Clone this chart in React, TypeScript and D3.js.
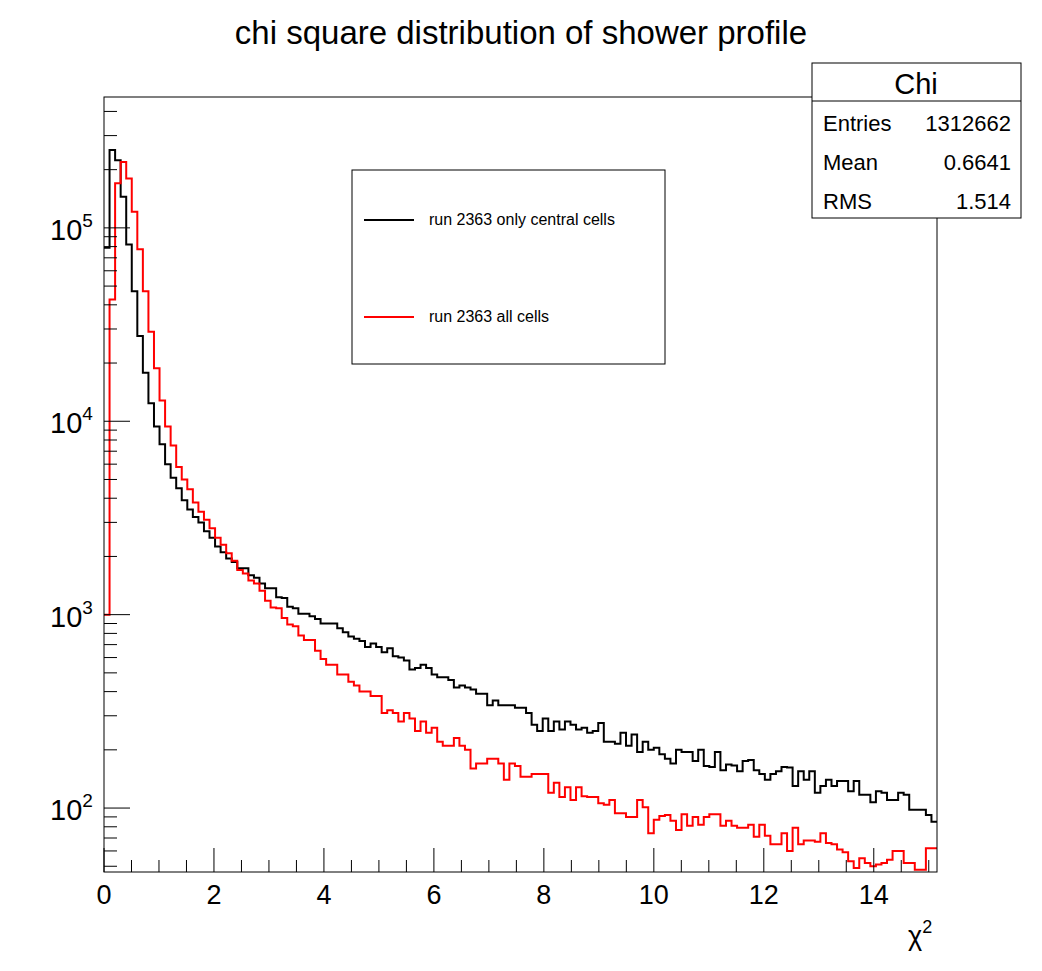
import React, { useEffect, useRef } from "react";
import * as d3 from "d3";

const binWidth = 0.101;
const xTicks = [0, 2, 4, 6, 8, 10, 12, 14];
const yTickExps = [2, 3, 4, 5];
const seriesNames = ["run 2363 only central cells", "run 2363 all cells"];
const seriesColors = ["#000000", "#ff0000"];
const statsLabels = ["Entries", "Mean", "RMS"];
const statsValues = ["1312662", "0.6641", "1.514"];

const central = [
  79000, 253000, 224000, 145000, 82000, 47000, 27600, 17800, 12400, 9400,
  7600, 6000, 5100, 4500, 3900, 3500, 3200, 3000, 2700, 2500,
  2250, 2100, 1950, 1870, 1740, 1740, 1600, 1550, 1450, 1370,
  1370, 1230, 1220, 1100, 1080, 1010, 1010, 980, 950, 900,
  900, 900, 850, 810, 770, 750, 730, 680, 710, 680,
  640, 670, 610, 600, 580, 520, 530, 550, 530, 490,
  475, 475, 460, 420, 430, 420, 410, 390, 390, 340,
  360, 340, 340, 340, 330, 330, 310, 270, 250, 290,
  250, 280, 255, 280, 270, 255, 260, 245, 250, 275,
  220, 220, 215, 245, 210, 240, 195, 220, 200, 205,
  190, 180, 170, 200, 195, 195, 175, 200, 165, 163,
  195, 157, 168, 166, 155, 175, 177, 157, 150, 140,
  150, 155, 163, 162, 130, 155, 140, 155, 120, 130,
  140, 130, 138, 138, 122, 138, 117, 117, 107, 122,
  120, 110, 110, 120, 117, 98, 98, 98, 92, 85,
];

const allCells = [
  1000, 42600, 170000, 219000, 180000, 121000, 77500, 47000, 29000, 18800,
  12800, 9400, 7500, 5800, 5000, 4450, 3800, 3400, 3100, 2800,
  2500, 2300, 2080, 1900, 1700, 1630, 1500, 1450, 1330, 1180,
  1090, 1080, 960, 890, 870, 780, 740, 740, 650, 590,
  550, 550, 490, 490, 450, 430, 400, 400, 380, 380,
  310, 320, 310, 280, 310, 290, 250, 280, 245, 260,
  220, 210, 210, 230, 210, 200, 160, 170, 170, 180,
  180, 170, 140, 170, 165, 145, 145, 150, 150, 150,
  120, 135, 114, 128, 110, 128, 115, 114, 114, 106,
  104, 110, 94, 94, 90, 90, 110, 101, 74, 87,
  91, 92, 86, 77, 93, 81, 90, 82, 90, 93,
  93, 81, 86, 81, 79, 79, 82, 71, 82, 72,
  65, 65, 74, 60, 79, 65, 68, 68, 67, 74,
  66, 65, 61, 59, 53, 49, 55, 52, 50, 51,
  52, 54, 60, 60, 52, 52, 48, 48, 62, 62,
];

const App = () => {
  const ref = useRef(null);

  useEffect(() => {
    const width = 1042;
    const height = 971;
    const left = 104, right = 937, top = 97, bottom = 872;
    const font = "Liberation Sans, Arial, sans-serif";

    d3.select(ref.current).selectAll("*").remove();
    const svg = d3
      .select(ref.current)
      .append("svg")
      .attr("width", width)
      .attr("height", height)
      .style("display", "block")
      .style("margin", "-8px")
      .style("font-family", font);

    svg.append("rect").attr("width", width).attr("height", height).attr("fill", "#fff");

    const nBins = central.length;
    const x = d3.scaleLinear().domain([0, nBins * binWidth]).range([left, right]);
    const y = d3.scaleLog().domain([46.7, 475000]).range([bottom, top]);

    // histograms
    const clip = svg.append("clipPath").attr("id", "frame");
    clip.append("rect").attr("x", left).attr("y", top).attr("width", right - left).attr("height", bottom - top);

    const stepPath = (vals: number[]) => {
      const pts: [number, number][] = [];
      vals.forEach((v, i) => {
        const yy = Math.min(y(Math.max(v, 1)), bottom + 5);
        pts.push([x(i * binWidth), yy]);
        pts.push([x((i + 1) * binWidth), yy]);
      });
      return d3.line()(pts);
    };

    [central, allCells].forEach((vals, k) => {
      svg
        .append("path")
        .attr("d", stepPath(vals))
        .attr("clip-path", "url(#frame)")
        .attr("fill", "none")
        .attr("stroke", seriesColors[k])
        .attr("stroke-width", 2);
    });

    // frame
    svg
      .append("rect")
      .attr("x", left)
      .attr("y", top)
      .attr("width", right - left)
      .attr("height", bottom - top)
      .attr("fill", "none")
      .attr("stroke", "#000")
      .attr("stroke-width", 1);

    // x ticks
    for (let v = 0; v <= 15.1; v += 0.5) {
      const major = Math.abs(v % 2) < 1e-6;
      svg
        .append("line")
        .attr("x1", x(v))
        .attr("x2", x(v))
        .attr("y1", bottom)
        .attr("y2", bottom - (major ? 24 : 12))
        .attr("stroke", "#000");
    }
    xTicks.forEach((t) => {
      svg
        .append("text")
        .attr("x", x(t))
        .attr("y", bottom + 32)
        .attr("text-anchor", "middle")
        .attr("font-size", 27)
        .text(t);
    });

    // y ticks
    for (let e = 1; e <= 5; e++) {
      for (let m = 1; m <= 9; m++) {
        const v = m * Math.pow(10, e);
        if (v < y.domain()[0] || v > y.domain()[1]) continue;
        svg
          .append("line")
          .attr("x1", left)
          .attr("x2", left + (m === 1 ? 26 : 13))
          .attr("y1", y(v))
          .attr("y2", y(v))
          .attr("stroke", "#000");
      }
    }
    yTickExps.forEach((e) => {
      const t = svg
        .append("text")
        .attr("x", 50)
        .attr("y", y(Math.pow(10, e)) + 12)
        .attr("font-size", 29);
      t.append("tspan").text("10");
      t.append("tspan").attr("font-size", 19).attr("dy", -13).text(e);
    });

    // axis title
    const xt = svg
      .append("text")
      .attr("x", 908)
      .attr("y", 945)
      .attr("font-size", 27);
    xt.append("tspan").text("χ");
    xt.append("tspan").attr("font-size", 18).attr("dy", -12).text("2");

    // title
    svg
      .append("text")
      .attr("x", 521)
      .attr("y", 44)
      .attr("text-anchor", "middle")
      .attr("font-size", 33)
      .text("chi square distribution of shower profile");

    // legend
    svg
      .append("rect")
      .attr("x", 352)
      .attr("y", 170)
      .attr("width", 313)
      .attr("height", 194)
      .attr("fill", "#fff")
      .attr("stroke", "#000");
    seriesNames.forEach((name, i) => {
      const ly = 220 + i * 97;
      svg
        .append("line")
        .attr("x1", 364)
        .attr("x2", 414)
        .attr("y1", ly)
        .attr("y2", ly)
        .attr("stroke", seriesColors[i])
        .attr("stroke-width", 2);
      svg
        .append("text")
        .attr("x", 429)
        .attr("y", ly + 5)
        .attr("font-size", 16)
        .text(name);
    });

    // stats box
    svg
      .append("rect")
      .attr("x", 812)
      .attr("y", 63)
      .attr("width", 209)
      .attr("height", 155)
      .attr("fill", "#fff")
      .attr("stroke", "#000");
    svg
      .append("line")
      .attr("x1", 812)
      .attr("x2", 1021)
      .attr("y1", 101)
      .attr("y2", 101)
      .attr("stroke", "#000");
    svg
      .append("text")
      .attr("x", 916)
      .attr("y", 94)
      .attr("text-anchor", "middle")
      .attr("font-size", 29)
      .text("Chi");
    statsLabels.forEach((lab, i) => {
      const sy = 131 + i * 39;
      svg.append("text").attr("x", 823).attr("y", sy).attr("font-size", 22).text(lab);
      svg
        .append("text")
        .attr("x", 1011)
        .attr("y", sy)
        .attr("text-anchor", "end")
        .attr("font-size", 22)
        .text(statsValues[i]);
    });
  }, []);

  return <div ref={ref}></div>;
};

export default App;
